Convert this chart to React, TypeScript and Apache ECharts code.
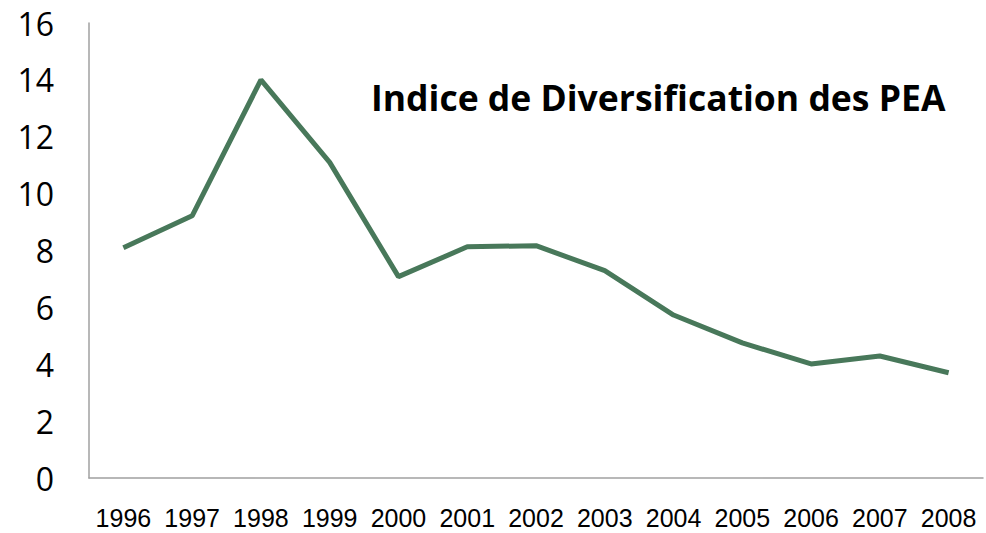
import React, { useEffect, useRef } from "react";
import * as echarts from "echarts";

const years = ["1996", "1997", "1998", "1999", "2000", "2001", "2002", "2003", "2004", "2005", "2006", "2007", "2008"];
const indexValues = [8.1, 9.22, 14.0, 11.1, 7.08, 8.13, 8.17, 7.29, 5.73, 4.75, 4.01, 4.29, 3.7];
const titleText = "Indice de Diversification des PEA";

export default function App() {
  const ref = useRef<HTMLDivElement>(null);
  useEffect(() => {
    if (!ref.current) return;
    const chart = echarts.init(ref.current, null, { renderer: "svg" });
    chart.setOption({
      animation: false,
      backgroundColor: "#ffffff",
      graphic: [
        {
          type: "text",
          left: 371,
          top: 79,
          style: {
            text: titleText,
            fontFamily: "Open Sans",
            fontWeight: "bold",
            fontSize: 35.5,
            fill: "#000000",
          },
        },
      ],
      grid: { left: 89, right: 3, top: 23, bottom: 55, containLabel: false },
      xAxis: {
        type: "category",
        data: years,
        boundaryGap: true,
        axisLine: { lineStyle: { color: "#a0a0a0", width: 1.5 } },
        axisTick: { show: false },
        axisLabel: { interval: 0, fontFamily: "Liberation Sans", fontSize: 25, color: "#000", margin: 27 },
      },
      yAxis: {
        type: "value",
        min: 0,
        max: 16,
        interval: 2,
        splitLine: { show: false },
        axisLine: { show: true, lineStyle: { color: "#a0a0a0", width: 1.5 } },
        axisTick: { show: false },
        axisLabel: { fontFamily: "Open Sans", fontSize: 32, color: "#000", margin: 35 },
      },
      series: [
        {
          type: "line",
          data: indexValues,
          showSymbol: false,
          lineStyle: { color: "#48785a", width: 5 },
        },
      ],
    });
    return () => chart.dispose();
  }, []);
  return <div ref={ref} style={{ width: 986, height: 533, position: "absolute", left: 0, top: 0 }} />;
}
